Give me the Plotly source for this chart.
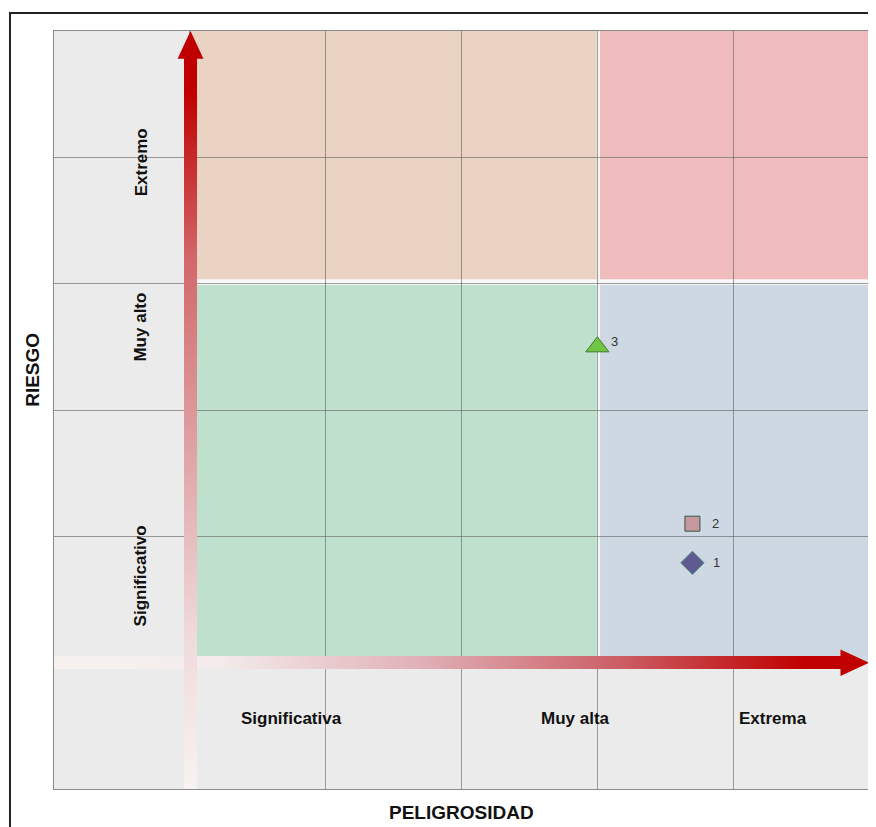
import plotly.graph_objects as go

# chart data
x_labels = ["Significativa", "Muy alta", "Extrema"]
y_labels = ["Significativo", "Muy alto", "Extremo"]
point_ids = ["1", "2", "3"]
peligrosidad = [4.70, 4.70, 4.00]
riesgo = [1.79, 2.10, 3.50]

# where the category labels sit (grid units)
x_label_pos = [1.75, 3.84, 5.29]
y_label_pos = [1.69, 3.66, 4.96]

FONT = "Liberation Sans, Arial, sans-serif"

fig = go.Figure()

# white base under the coloured zones, then the four zones
shapes = [dict(type="rect", xref="x", yref="y", x0=1, x1=6, y0=1, y1=6,
               fillcolor="#F7F7F7", line_width=0, layer="below")]
zones = [
    (1.0, 3.995, 4.035, 6.0, "#EAD3C2"),   # naranja
    (4.02, 6.0, 4.035, 6.0, "#EFBBBC"),    # rojo
    (1.0, 3.995, 1.0, 3.99, "#BFE0CC"),    # verde
    (4.02, 6.0, 1.0, 3.99, "#CED8E3"),     # azul
]
for x0, x1, y0, y1, col in zones:
    shapes.append(dict(type="rect", xref="x", yref="y", x0=x0, x1=x1, y0=y0, y1=y1,
                       fillcolor=col, line_width=0, layer="below"))

# outer black frame of the picture
shapes.append(dict(type="rect", xref="paper", yref="paper", x0=-0.054, x1=1.2,
                   y0=-0.3, y1=1.0237, line=dict(color="#222222", width=2),
                   fillcolor="rgba(0,0,0,0)", layer="above"))

# horizontal gradient arrow
fig.add_trace(go.Scatter(
    x=[0, 5.79, 5.79, 6.0, 5.79, 5.79, 0, 0],
    y=[0.95, 0.95, 0.895, 1.0, 1.105, 1.052, 1.052, 0.95],
    mode="lines", line=dict(width=0), fill="toself",
    fillgradient=dict(type="horizontal", colorscale=[
        [0.0, "#F7F2F0"], [0.2, "#F4ECEC"], [0.45, "#E0B0B6"],
        [0.7, "#CB5C63"], [0.92, "#C00000"], [1.0, "#C00000"]]),
    hoverinfo="skip", showlegend=False))

# vertical gradient arrow
fig.add_trace(go.Scatter(
    x=[0.957, 1.053, 1.053, 1.10, 1.005, 0.91, 0.957, 0.957],
    y=[0, 0, 5.78, 5.78, 6.0, 5.78, 5.78, 0],
    mode="lines", line=dict(width=0), fill="toself",
    fillgradient=dict(type="vertical", colorscale=[
        [0.0, "#F8F2F1"], [0.2, "#F0DADB"], [0.45, "#DFA2A4"],
        [0.7, "#D2676A"], [0.92, "#C00000"], [1.0, "#C00000"]]),
    hoverinfo="skip", showlegend=False))

# points
symbols = ["diamond", "square", "triangle-up"]
fills = ["#5F5A90", "#C6979C", "#72C544"]
edges = ["#4F8F8A", "#2F5A48", "#3C7A2A"]
sizes = [18, 15, 20]
for i in range(3):
    fig.add_trace(go.Scatter(
        x=[peligrosidad[i]], y=[riesgo[i]], mode="markers",
        marker=dict(symbol=symbols[i], size=sizes[i], color=fills[i],
                    line=dict(color=edges[i], width=1)),
        showlegend=False))

annotations = []
shifts = [(24, 0), (23, 0), (17, 5)]
for i in range(3):
    annotations.append(dict(x=peligrosidad[i], y=riesgo[i], xref="x", yref="y",
                            text=point_ids[i], showarrow=False,
                            xshift=shifts[i][0], yshift=shifts[i][1],
                            font=dict(family=FONT, size=13, color="#333333")))
for lab, xp in zip(x_labels, x_label_pos):
    annotations.append(dict(x=xp, y=0.56, xref="x", yref="y", text="<b>" + lab + "</b>",
                            showarrow=False, font=dict(family=FONT, size=17, color="#111111")))
for lab, yp in zip(y_labels, y_label_pos):
    annotations.append(dict(x=0.64, y=yp, xref="x", yref="y", text="<b>" + lab + "</b>",
                            showarrow=False, textangle=-90,
                            font=dict(family=FONT, size=17, color="#111111")))
annotations.append(dict(x=0.5, y=-0.031, xref="paper", yref="paper", text="<b>PELIGROSIDAD</b>",
                        showarrow=False, yanchor="middle",
                        font=dict(family=FONT, size=19, color="#111111")))
annotations.append(dict(x=-0.0258, y=0.553, xref="paper", yref="paper", text="<b>RIESGO</b>",
                        showarrow=False, textangle=-90, xanchor="center",
                        font=dict(family=FONT, size=19, color="#111111")))

# page body has an 8px margin, so the figure is sized/offset to fit the window
fig.update_layout(
    width=862, height=819,
    margin=dict(l=46, r=1, t=23, b=38),
    paper_bgcolor="white", plot_bgcolor="#EBEBEB",
    shapes=shapes, annotations=annotations,
    xaxis=dict(range=[0, 6], dtick=1, showgrid=True, gridcolor="rgba(95,95,95,0.6)",
               showticklabels=False, zeroline=False, showline=True, linecolor="#8A8A8A",
               mirror=True, fixedrange=True),
    yaxis=dict(range=[0, 6], dtick=1, showgrid=True, gridcolor="rgba(95,95,95,0.6)",
               showticklabels=False, zeroline=False, showline=True, linecolor="#8A8A8A",
               mirror=True, fixedrange=True),
)

fig.write_html("out.html")
